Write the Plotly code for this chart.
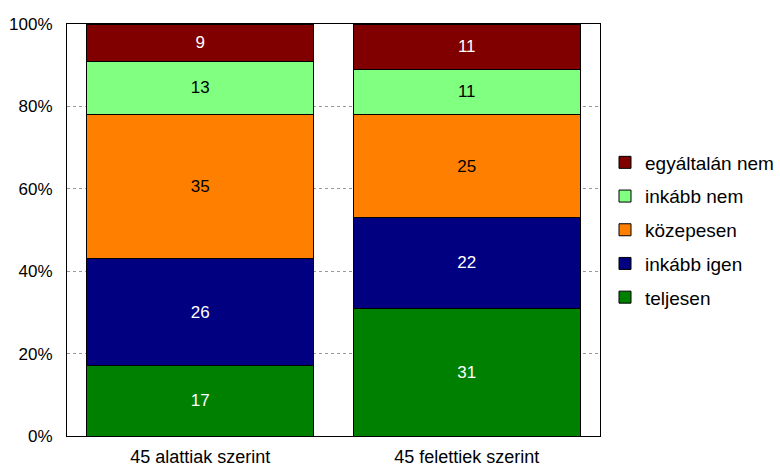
import plotly.graph_objects as go

categories = ["45 alattiak szerint", "45 felettiek szerint"]
series_names = ["teljesen", "inkább igen", "közepesen", "inkább nem", "egyáltalán nem"]
teljesen = [17, 31]
inkabb_igen = [26, 22]
kozepesen = [35, 25]
inkabb_nem = [13, 11]
egyaltalan_nem = [9, 11]
values = [teljesen, inkabb_igen, kozepesen, inkabb_nem, egyaltalan_nem]
colors = ["#008000", "#000080", "#FF8000", "#80FF80", "#800000"]
text_colors = ["white", "white", "black", "black", "white"]
tick_vals = [0, 20, 40, 60, 80, 100]
tick_text = ["0%", "20%", "40%", "60%", "80%", "100%"]

FONT = "Liberation Sans, Arial"

fig = go.Figure()
for i, (name, vals, col, tc) in enumerate(zip(series_names, values, colors, text_colors)):
    fig.add_trace(go.Bar(
        x=categories, y=vals, name=name, legendgroup=name,
        legendrank=100 - i,
        marker=dict(color=col, line=dict(color="black", width=1)),
        text=[str(v) for v in vals], textposition="inside", insidetextanchor="middle",
        textfont=dict(color=tc, size=17, family=FONT),
        constraintext="none",
    ))

fig.update_layout(
    barmode="stack", bargap=0.15,
    width=780, height=467,
    margin=dict(l=67, r=180, t=24, b=31, autoexpand=False),
    paper_bgcolor="white", plot_bgcolor="white",
    font=dict(family=FONT, size=17, color="black"),
    legend=dict(
        traceorder="grouped", tracegroupgap=6,
        x=1.0094, xanchor="left", y=0.5, yanchor="middle",
        font=dict(size=19), bgcolor="rgba(0,0,0,0)", itemwidth=30,
    ),
    showlegend=True,
)
fig.update_xaxes(showline=True, linecolor="black", linewidth=1, mirror=True,
                 ticks="", tickfont=dict(size=18), ticklabelstandoff=4,
                 automargin=False)
fig.update_yaxes(range=[0, 100], tickvals=tick_vals, ticktext=tick_text,
                 showline=True, linecolor="black", linewidth=1, mirror=True,
                 showgrid=True, gridcolor="#999999", griddash="dot", gridwidth=1,
                 ticks="", tickfont=dict(size=17), zeroline=False,
                 ticklabelstandoff=10, automargin=False)

fig.write_html("out.html")
